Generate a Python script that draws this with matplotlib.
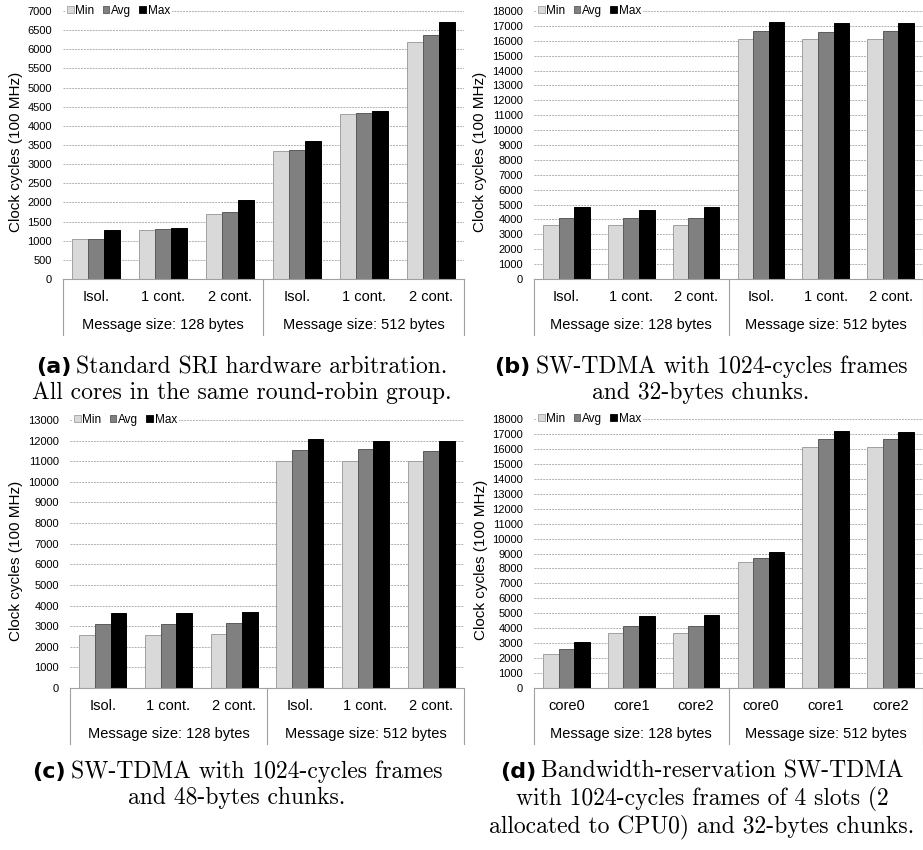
import numpy as np
import matplotlib
matplotlib.use('Agg')
import matplotlib.pyplot as plt
import matplotlib.transforms as mtransforms
from matplotlib.patches import Patch

plt.rcParams['font.family'] = ['Liberation Sans', 'DejaVu Sans']

series = ['Min', 'Avg', 'Max']
groups = ['Message size: 128 bytes', 'Message size: 512 bytes']
cats_cont = ['Isol.', '1 cont.', '2 cont.'] * 2
cats_core = ['core0', 'core1', 'core2'] * 2

# (a) standard SRI arbitration
a_min = [1040, 1290, 1690, 3340, 4300, 6180]
a_avg = [1050, 1310, 1760, 3380, 4330, 6370]
a_max = [1275, 1320, 2070, 3610, 4390, 6710]

# (b) SW-TDMA 32-byte chunks
b_min = [3600, 3620, 3620, 16110, 16120, 16120]
b_avg = [4120, 4100, 4120, 16640, 16620, 16640]
b_max = [4850, 4650, 4850, 17260, 17200, 17200]

# (c) SW-TDMA 48-byte chunks
c_min = [2570, 2585, 2615, 11000, 11000, 11000]
c_avg = [3100, 3100, 3130, 11550, 11590, 11500]
c_max = [3650, 3620, 3680, 12080, 12000, 12000]

# (d) bandwidth reservation
d_min = [2300, 3650, 3660, 8450, 16120, 16140]
d_avg = [2590, 4150, 4180, 8730, 16640, 16640]
d_max = [3060, 4830, 4870, 9090, 17200, 17130]

face = ['#d9d9d9', '#808080', '#000000']
edge = ['#a0a0a0', '#5a5a5a', '#000000']
W, H = 923, 850

fig = plt.figure(figsize=(W / 100, H / 100), dpi=100)


def panel(px_left, px_right, px_top, px_bot, vals, cats, ymax, ystep, lab_x):
    ax = fig.add_axes([px_left / W, 1 - px_bot / H,
                       (px_right - px_left) / W, (px_bot - px_top) / H])
    x = np.arange(len(cats))
    bw = 0.24
    for i, v in enumerate(vals):
        ax.bar(x + (i - 1) * bw, v, bw, color=face[i], edgecolor=edge[i],
               linewidth=0.7, zorder=2)
    ax.set_xlim(-0.5, len(cats) - 0.5)
    ax.set_ylim(0, ymax)
    ax.set_yticks(np.arange(0, ymax + 1, ystep))
    ax.yaxis.grid(True, linestyle=(0, (2, 1)), color='#b0b0b0', linewidth=0.7)
    ax.set_axisbelow(True)
    for s in ['left', 'right', 'top']:
        ax.spines[s].set_visible(False)
    ax.spines['bottom'].set_color('#a0a0a0')
    ax.tick_params(axis='y', length=0, labelsize=8, pad=8)
    ax.tick_params(axis='x', length=0, labelsize=10.5, pad=8)
    ax.set_xticks(x)
    ax.set_xticklabels(cats)
    ax.set_ylabel('Clock cycles (100 MHz)', fontsize=11)
    ax.yaxis.set_label_coords(lab_x, 0.475)
    h = px_bot - px_top
    tr = mtransforms.blended_transform_factory(ax.transData, ax.transAxes)
    for sx in [-0.5, 2.5, 5.5]:
        ax.plot([sx, sx], [0, -56 / h], transform=tr, clip_on=False,
                color='#a0a0a0', linewidth=0.8)
    for gi, g in enumerate(groups):
        ax.text(1 + 3 * gi, -46 / h, g, transform=tr, ha='center',
                va='center', fontsize=10.5)
    handles = [Patch(facecolor=face[i], edgecolor=edge[i], linewidth=0.6,
                     label=series[i]) for i in range(3)]
    leg = ax.legend(handles=handles, loc='center left', bbox_to_anchor=(0.0, 1.0),
                    ncol=3, fontsize=8.5, frameon=True, handlelength=0.55,
                    handleheight=0.55, handletextpad=0.15, columnspacing=0.7,
                    borderpad=0.15, borderaxespad=0.2)
    leg.get_frame().set_facecolor('white')
    leg.get_frame().set_edgecolor('none')
    leg.get_frame().set_alpha(1)
    leg.set_zorder(5)
    return ax


panel(63, 464, 11, 279, [a_min, a_avg, a_max], cats_cont, 7000, 500, -0.100)
panel(534, 923, 11, 279, [b_min, b_avg, b_max], cats_cont, 18000, 1000, -0.121)
panel(70, 464, 420, 688, [c_min, c_avg, c_max], cats_cont, 13000, 1000, -0.119)
panel(534, 923, 419, 688, [d_min, d_avg, d_max], cats_core, 18000, 1000, -0.118)

# captions
renderer = fig.canvas.get_renderer()
serif = ['cmr10', 'DejaVu Serif']
cap_size = 17
bold_font = dict(family=['DejaVu Sans'], weight='bold', size=16)


def caption(cx, y0, label, lines, dy=26):
    base = 1 - y0 / H
    t1 = fig.text(0, base, label, va='baseline', ha='left', **bold_font)
    t2 = fig.text(0, base, lines[0], va='baseline', ha='left', family=serif,
                  size=cap_size)
    w1 = t1.get_window_extent(renderer).width
    w2 = t2.get_window_extent(renderer).width
    gap = 5
    start = cx - (w1 + gap + w2) / 2
    t1.set_x(start / W)
    t2.set_x((start + w1 + gap) / W)
    for k, line in enumerate(lines[1:], start=1):
        fig.text(cx / W, 1 - (y0 + k * dy) / H, line, va='baseline',
                 ha='center', family=serif, size=cap_size)


caption(242, 373, '(a)', ['Standard SRI hardware arbitration.',
                          'All cores in the same round-robin group.'])
caption(701, 373, '(b)', ['SW-TDMA with 1024-cycles frames',
                          'and 32-bytes chunks.'])
caption(237, 778, '(c)', ['SW-TDMA with 1024-cycles frames',
                          'and 48-bytes chunks.'])
caption(702, 778, '(d)', ['Bandwidth-reservation SW-TDMA',
                          'with 1024-cycles frames of 4 slots (2',
                          'allocated to CPU0) and 32-bytes chunks.'], dy=27)

fig.savefig('out.png', dpi=100)
